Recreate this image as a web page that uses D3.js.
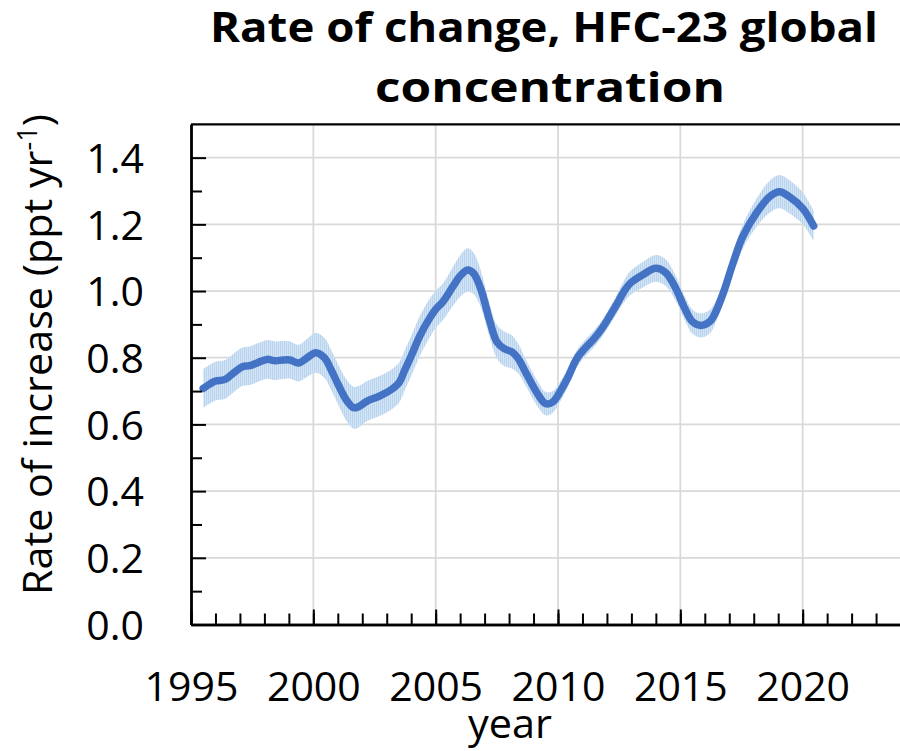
<!DOCTYPE html>
<html>
<head>
<meta charset="utf-8">
<script src="https://cdn.jsdelivr.net/npm/d3@7"></script>
<style>
  html, body { margin: 0; padding: 0; background: #fff; }
  svg { display: block; }
  text { font-family: "Open Sans", "Noto Sans", sans-serif; fill: #000; }
</style>
</head>
<body>
<svg id="chart" width="900" height="751"></svg>
<script>
// Smoothed global growth rate of HFC-23 (ppt per year) with its uncertainty
const years = [
  1995.5, 1995.75, 1996.0, 1996.4, 1996.75, 1997.1, 1997.4, 1997.75, 1998.1, 1998.45,
  1998.75, 1999.05, 1999.4, 1999.75, 2000.1, 2000.45, 2000.75, 2001.0, 2001.35, 2001.65,
  2001.85, 2002.2, 2002.7, 2003.25, 2003.5, 2003.75, 2004.0, 2004.35, 2004.75, 2005.0,
  2005.3, 2005.7, 2006.0, 2006.3, 2006.55, 2006.85, 2007.2, 2007.5, 2007.8, 2008.1,
  2008.35, 2008.7, 2009.2, 2009.5, 2009.8, 2010.1, 2010.4, 2010.75, 2011.1, 2011.45,
  2011.8, 2012.1, 2012.4, 2012.65, 2012.95, 2013.45, 2014.0, 2014.4, 2014.8, 2015.2,
  2015.5, 2015.85, 2016.2, 2016.4, 2016.75, 2017.15, 2017.55, 2018.1, 2018.65, 2019.05,
  2019.45, 2020.0, 2020.45
];
const rate = [
  0.708, 0.720, 0.730, 0.735, 0.755, 0.773, 0.776, 0.786, 0.795, 0.791,
  0.793, 0.793, 0.784, 0.800, 0.815, 0.800, 0.760, 0.722, 0.673, 0.650,
  0.653, 0.670, 0.685, 0.708, 0.725, 0.765, 0.805, 0.865, 0.918, 0.945,
  0.968, 1.013, 1.045, 1.063, 1.053, 1.005, 0.913, 0.848, 0.827, 0.818,
  0.800, 0.753, 0.688, 0.662, 0.668, 0.700, 0.740, 0.795, 0.828, 0.855,
  0.888, 0.923, 0.960, 0.993, 1.023, 1.048, 1.068, 1.055, 1.010, 0.945,
  0.908, 0.897, 0.908, 0.930, 0.993, 1.083, 1.163, 1.233, 1.283, 1.298,
  1.283, 1.248, 1.195
];
const uncertainty = [
  0.058, 0.058, 0.058, 0.058, 0.058, 0.058, 0.058, 0.058, 0.058, 0.058,
  0.057, 0.056, 0.055, 0.057, 0.060, 0.060, 0.060, 0.060, 0.062, 0.063,
  0.062, 0.060, 0.060, 0.060, 0.060, 0.060, 0.060, 0.060, 0.058, 0.055,
  0.055, 0.058, 0.062, 0.065, 0.062, 0.055, 0.050, 0.050, 0.052, 0.050,
  0.045, 0.040, 0.038, 0.035, 0.032, 0.030, 0.028, 0.026, 0.025, 0.025,
  0.025, 0.026, 0.028, 0.032, 0.036, 0.038, 0.040, 0.040, 0.038, 0.036,
  0.036, 0.036, 0.035, 0.033, 0.030, 0.032, 0.036, 0.042, 0.048, 0.050,
  0.050, 0.048, 0.045
];

const xMajorTicks = [1995, 2000, 2005, 2010, 2015, 2020, 2025];
const xTickLabels = ["1995", "2000", "2005", "2010", "2015", "2020", ""];
const xMinorTicks = d3.range(1995, 2026, 1);
const yMajorTicks = [0.0, 0.2, 0.4, 0.6, 0.8, 1.0, 1.2, 1.4];
const yTickLabels = ["0.0", "0.2", "0.4", "0.6", "0.8", "1.0", "1.2", "1.4"];
const yMinorTicks = [0.1, 0.3, 0.5, 0.7, 0.9, 1.1, 1.3];

const titleLines = ["Rate of change, HFC-23 global", "concentration"];
const xTitle = "year";

const series = years.map((yr, i) => ({ yr, v: rate[i], e: uncertainty[i] }));

const svg = d3.select("#chart");
const x = d3.scaleLinear().domain([1995, 2025]).range([191, 925]);
const y = d3.scaleLinear().domain([0, 1.5]).range([624.5, 124.3]);

// Band texture: fine vertical hatching
const defs = svg.append("defs");
const pat = defs.append("pattern")
  .attr("id", "hatch").attr("patternUnits", "userSpaceOnUse")
  .attr("width", 2).attr("height", 4);
pat.append("rect").attr("width", 2).attr("height", 4).attr("fill", "#d3e4f4");
pat.append("rect").attr("width", 1).attr("height", 4).attr("fill", "#b9d4ee");

// Grid
const grid = svg.append("g");
grid.selectAll(".hg").data(yMajorTicks.filter(d => d > 0)).enter().append("line")
  .attr("x1", x(1995)).attr("x2", x(2025))
  .attr("y1", d => y(d)).attr("y2", d => y(d))
  .attr("stroke", "#d9d9d9").attr("stroke-width", 1.75);
grid.selectAll(".vg").data(xMajorTicks.filter(d => d > 1995)).enter().append("line")
  .attr("x1", d => x(d)).attr("x2", d => x(d))
  .attr("y1", y(0)).attr("y2", y(1.5))
  .attr("stroke", "#d9d9d9").attr("stroke-width", 1.75);

// Uncertainty band and central line
const curve = d3.curveCatmullRom.alpha(0.5);
svg.append("path").datum(series)
  .attr("fill", "url(#hatch)")
  .attr("d", d3.area().curve(curve)
    .x(d => x(d.yr)).y0(d => y(d.v - d.e)).y1(d => y(d.v + d.e)));
svg.append("path").datum(series)
  .attr("fill", "none").attr("stroke", "#4472c4").attr("stroke-width", 7.5)
  .attr("stroke-linecap", "round").attr("stroke-linejoin", "round")
  .attr("d", d3.line().curve(curve).x(d => x(d.yr)).y(d => y(d.v)));

// Top frame line
svg.append("line")
  .attr("x1", x(1995)).attr("x2", x(2025)).attr("y1", y(1.5)).attr("y2", y(1.5))
  .attr("stroke", "#000").attr("stroke-width", 2.2);

// Y axis
const yAxisMinor = d3.axisLeft(y).tickValues(yMinorTicks).tickSizeInner(-11).tickSizeOuter(0).tickFormat("");
const yAxis = d3.axisLeft(y).tickValues(yMajorTicks).tickSizeInner(-15).tickSizeOuter(0)
  .tickPadding(47).tickFormat((d, i) => yTickLabels[i]);
svg.append("g").attr("transform", `translate(${x(1995)},0)`).call(yAxisMinor);
const gy = svg.append("g").attr("transform", `translate(${x(1995)},0)`).call(yAxis);
gy.selectAll("text").attr("font-size", 41).attr("dy", "0.36em")
  .style("font-family", "'Open Sans', sans-serif");

// X axis
const xAxisMinor = d3.axisBottom(x).tickValues(xMinorTicks).tickSizeInner(-11).tickSizeOuter(0).tickFormat("");
const xAxis = d3.axisBottom(x).tickValues(xMajorTicks).tickSizeInner(-15).tickSizeOuter(0)
  .tickFormat((d, i) => xTickLabels[i]);
svg.append("g").attr("transform", `translate(0,${y(0)})`).call(xAxisMinor);
const gx = svg.append("g").attr("transform", `translate(0,${y(0)})`).call(xAxis);
gx.selectAll("text").attr("font-size", 41).attr("dy", null).attr("y", 76)
  .style("font-family", "'Open Sans', sans-serif");
gx.selectAll(".tick").filter(d => d === 2025).select("text").remove();

svg.selectAll(".domain").attr("stroke", "#000").attr("stroke-width", 2.4);
svg.selectAll(".tick line").attr("stroke", "#000").attr("stroke-width", 2);

// Axis titles
svg.append("text").attr("x", 510).attr("y", 738).attr("text-anchor", "middle")
  .attr("font-size", 41).attr("textLength", 84).attr("lengthAdjust", "spacingAndGlyphs")
  .text(xTitle);

const yl = svg.append("text")
  .attr("transform", "translate(52,354.5) rotate(-90)")
  .attr("text-anchor", "middle").attr("font-size", 41)
  .attr("textLength", 481).attr("lengthAdjust", "spacingAndGlyphs");
yl.append("tspan").text("Rate of increase (ppt yr");
yl.append("tspan").attr("font-size", 27).attr("dy", -15).text("-1");
yl.append("tspan").attr("dy", 15).text(")");

// Chart title
svg.append("text").attr("x", 544).attr("y", 42).attr("text-anchor", "middle")
  .attr("font-size", 41).attr("font-weight", 700)
  .attr("textLength", 668).attr("lengthAdjust", "spacingAndGlyphs")
  .text(titleLines[0]);
svg.append("text").attr("x", 550).attr("y", 102).attr("text-anchor", "middle")
  .attr("font-size", 41).attr("font-weight", 700)
  .attr("textLength", 350).attr("lengthAdjust", "spacingAndGlyphs")
  .text(titleLines[1]);
</script>
</body>
</html>
